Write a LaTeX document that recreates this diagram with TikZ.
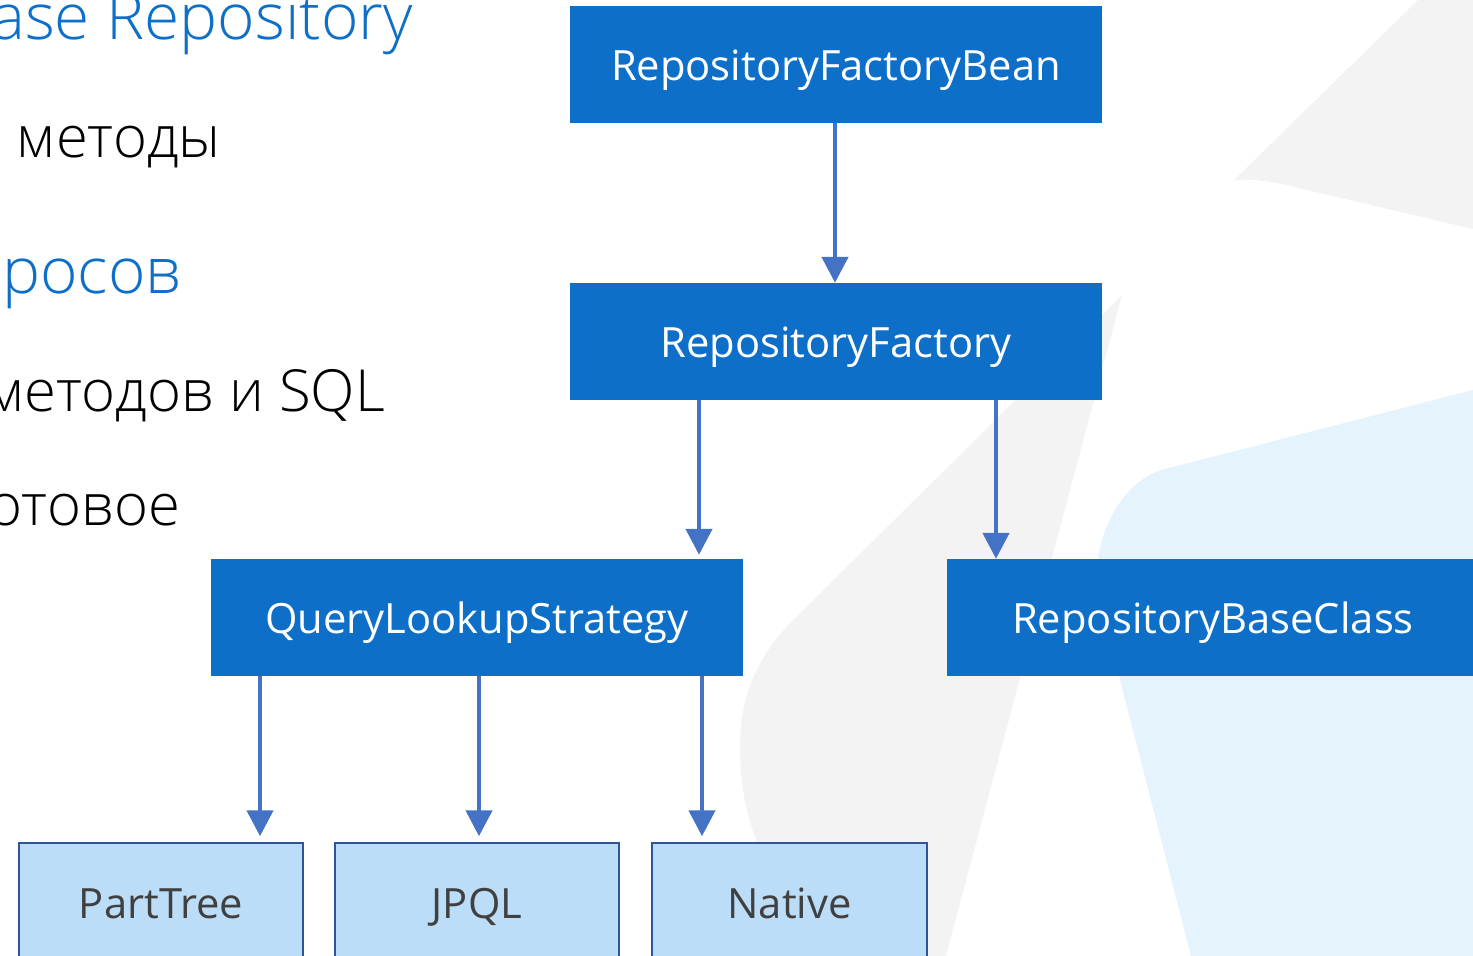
\documentclass[tikz,border=0pt]{standalone}
\usepackage{fontspec}
\setmainfont{Open Sans}
\newfontfamily\lightfont{Open Sans Light}
\usetikzlibrary{arrows.meta}
\definecolor{boxblue}{HTML}{0D6FC7}
\definecolor{leafblue}{HTML}{BBDDF8}
\definecolor{leafedge}{HTML}{2F5597}
\definecolor{linkblue}{HTML}{4472C4}
\definecolor{shadegray}{HTML}{F4F3F4}
\definecolor{shadeblue}{HTML}{E5F3FC}
\definecolor{leaftext}{HTML}{404040}
\tikzset{
	mainbox/.style={fill=boxblue, text=white, minimum width=532pt, minimum height=117pt, inner sep=0pt, text height=32pt, text depth=0pt, font=\fontsize{41.7}{44}\selectfont},
	leafbox/.style={fill=leafblue, draw=leafedge, line width=2.5pt, text=leaftext, minimum height=120pt, inner sep=0pt, text height=30pt, text depth=0pt, font=\fontsize{41.7}{44}\selectfont},
	flow/.style={draw=linkblue, line width=4.5pt, -{Triangle[width=26pt,length=26pt]}},
	head/.style={text=boxblue, anchor=base east, inner sep=0pt, font=\lightfont\fontsize{64}{68}\selectfont},
	body/.style={text=black, anchor=base east, inner sep=0pt, font=\lightfont\fontsize{58}{60}\selectfont}
}
\begin{document}
\begin{tikzpicture}[x=1pt,y=-1pt]
		\clip (0,0) rectangle (1473,956);
		
		% background
		\fill[shadegray] (1233,181) -- (1418,0) -- (1473,0) -- (1473,229) -- (1290,186) .. controls (1265,180) and (1245,178) .. cycle;
		\fill[shadegray] (1122,295) -- (791,622) .. controls (755,660) and (738,700) .. (740,756) .. controls (741,790) and (748,820) .. (757,842) -- (790,956) -- (946,956) -- cycle;
		\fill[shadeblue] (1473,390) -- (1161,470) .. controls (1130,480) and (1105,515) .. (1098,558) -- (1119,676) -- (1191,956) -- (1473,956) -- cycle;
		
		% text on the left
		\node[head] (title) at (413,39) {ase Repository};
		\node[body] (methods) at (221,157) {методы};
		\node[head] (queries) at (182,293) {росов};
		\node[body] (names) at (385,411) {методов и SQL};
		\node[body] (ready) at (180,525) {отовое};
		
		% boxes
		\node[mainbox] (factoryBean) at (836,64.5) {RepositoryFactoryBean};
		\node[mainbox] (factory) at (836,341.5) {RepositoryFactory};
		\node[mainbox] (strategy) at (477,617.5) {QueryLookupStrategy};
		\node[mainbox] (baseClass) at (1213,617.5) {RepositoryBaseClass};
		
		% the three lookups
		\node[leafbox, minimum width=284pt] (partTree) at (161,903) {PartTree};
		\node[leafbox, minimum width=284pt] (jpql) at (477,903) {JPQL};
		\node[leafbox, minimum width=275pt] (native) at (789.5,903) {Native};
		
		% arrows
		\coordinate (xFactory) at (699,0);
		\coordinate (xBase) at (996,0);
		\coordinate (xTree) at (260,0);
		\coordinate (xJpql) at (479,0);
		\coordinate (xNative) at (702,0);
		\draw[flow] (factoryBean.south -| 835,0) -- (factory.north -| 835,0);
		\draw[flow, shorten >=4pt] (factory.south -| xFactory) -- (strategy.north -| xFactory);
		\draw[flow] (factory.south -| xBase) -- (baseClass.north -| xBase);
		\draw[flow, shorten >=5.5pt] (strategy.south -| xTree) -- (partTree.north -| xTree);
		\draw[flow, shorten >=5.5pt] (strategy.south -| xJpql) -- (jpql.north -| xJpql);
		\draw[flow, shorten >=5.5pt] (strategy.south -| xNative) -- (native.north -| xNative);
\end{tikzpicture}
\end{document}
